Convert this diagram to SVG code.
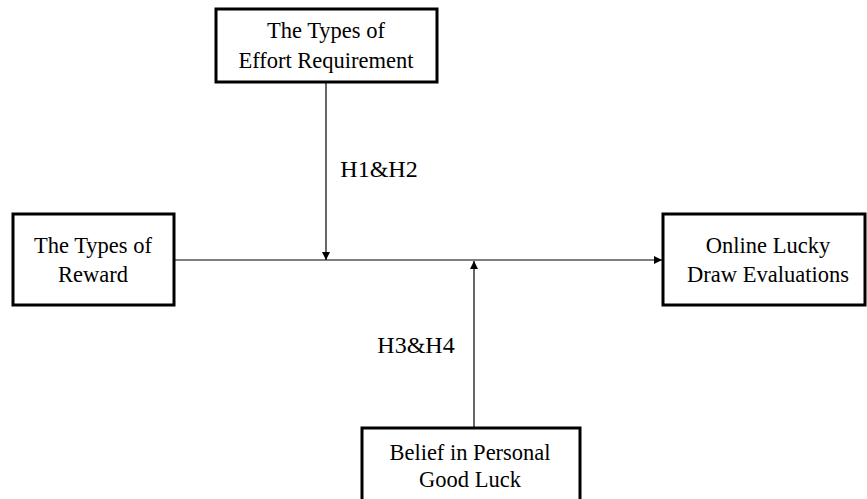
<svg xmlns="http://www.w3.org/2000/svg" width="867" height="499" viewBox="0 0 867 499">
<style>
.box{fill:#fff;stroke:#000;stroke-width:3}
.t{font-family:"Liberation Serif","Times New Roman",serif;font-size:22.5px;fill:#000;text-anchor:middle}
.h{font-family:"Liberation Serif","Times New Roman",serif;font-size:24px;fill:#000;text-anchor:middle}
.c{stroke:#000;stroke-width:1.2;fill:none}
</style>
<defs>
<marker id="ah" viewBox="0 0 10 10" refX="10" refY="5" markerWidth="8" markerHeight="8" markerUnits="userSpaceOnUse" orient="auto">
<path d="M0,0 L10,5 L0,10 z" fill="#000"/>
</marker>
</defs>
<g id="connectors">
<line class="c" x1="173" y1="260" x2="662" y2="260" marker-end="url(#ah)"/>
<line class="c" x1="326" y1="82" x2="326" y2="260" marker-end="url(#ah)"/>
<line class="c" x1="474" y1="428" x2="474" y2="261" marker-end="url(#ah)"/>
<text class="h" x="379" y="177">H1&amp;H2</text>
<text class="h" x="416" y="353">H3&amp;H4</text>
</g>
<g id="effort">
<rect class="box" x="216" y="9" width="221" height="73"/>
<text class="t" x="326" y="38">The Types of</text>
<text class="t" x="326" y="68">Effort Requirement</text>
</g>
<g id="reward">
<rect class="box" x="13" y="214" width="161" height="91"/>
<text class="t" x="93" y="253">The Types of</text>
<text class="t" x="93" y="282">Reward</text>
</g>
<g id="evaluations">
<rect class="box" x="663" y="214" width="202" height="91"/>
<text class="t" x="768" y="253">Online Lucky</text>
<text class="t" x="768" y="282">Draw Evaluations</text>
</g>
<g id="luck">
<rect class="box" x="362" y="428" width="218" height="80"/>
<text class="t" x="470" y="460">Belief in Personal</text>
<text class="t" x="470" y="487">Good Luck</text>
</g>
</svg>
